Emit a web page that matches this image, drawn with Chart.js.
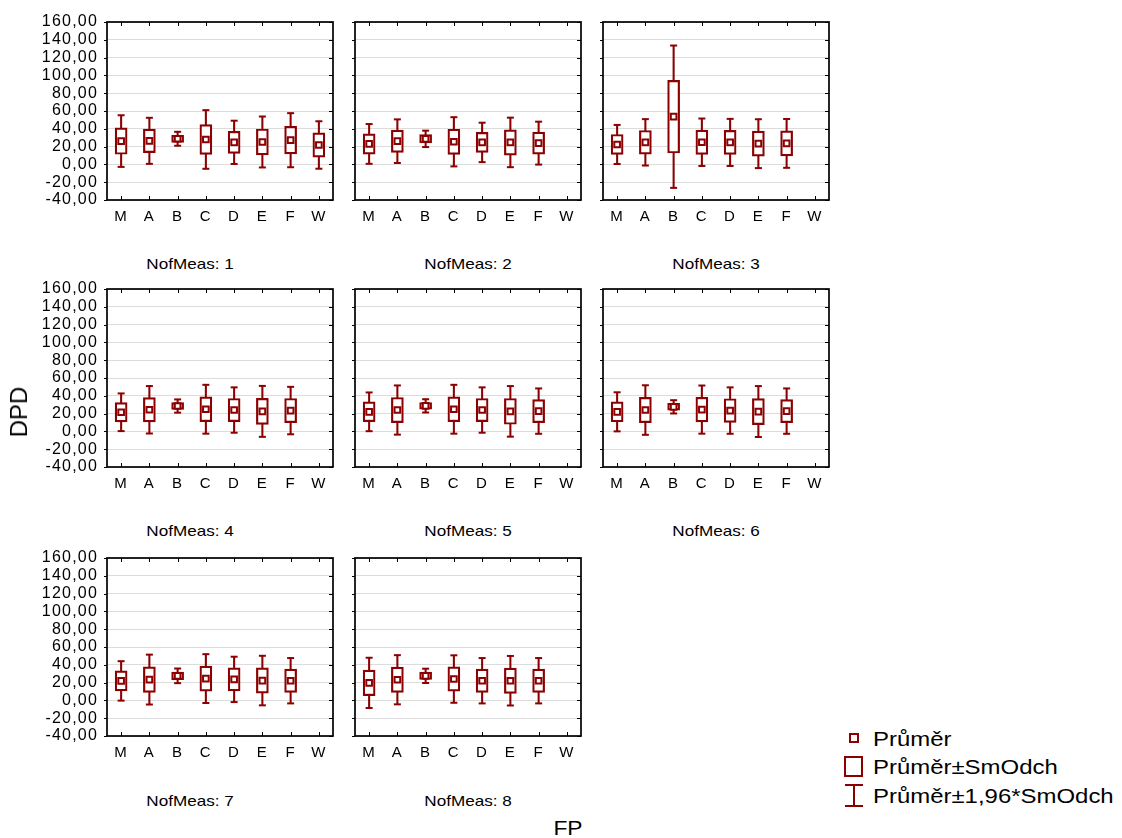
<!DOCTYPE html>
<html>
<head>
<meta charset="utf-8">
<script src="https://cdn.jsdelivr.net/npm/chart.js@4.4.1/dist/chart.umd.min.js"></script>
<style>
  html, body { margin: 0; padding: 0; background: #fff; }
  body { width: 1122px; height: 838px; position: relative; overflow: hidden;
         font-family: "Liberation Sans", Arial, sans-serif; color: #000; }
  canvas { position: absolute; }
  .lbl { position: absolute; white-space: nowrap; line-height: 1; }
  .title { font-size: 15px; transform: translate(-50%, -50%) scaleX(1.14); }
  .leg { font-size: 21px; left: 873px; transform: scaleX(1.14); transform-origin: left center; }
  .sym { position: absolute; box-sizing: border-box; }
</style>
</head>
<body>
<script>
// categories and per-panel values (Průměr = mean, SmOdch = standard deviation)
const categories = ["M", "A", "B", "C", "D", "E", "F", "W"];
const panelNames = ["NofMeas: 1", "NofMeas: 2", "NofMeas: 3", "NofMeas: 4",
                    "NofMeas: 5", "NofMeas: 6", "NofMeas: 7", "NofMeas: 8"];
const yTicks = { min: -40, max: 160, step: 20 };

const mean1 = [26.2, 26.5, 28.8, 28.0, 24.8, 25.2, 27.2, 21.8];
const sd1   = [14.8, 13.2, 4.0, 16.8, 12.4, 14.6, 15.5, 13.6];
const mean2 = [23.0, 26.1, 28.7, 25.4, 24.7, 24.7, 23.9, null];
const sd2   = [11.4, 12.5, 4.7, 14.1, 11.3, 14.2, 12.3, null];
const mean3 = [22.4, 24.8, 53.6, 24.9, 24.7, 23.3, 23.6, null];
const sd3   = [11.2, 13.3, 40.8, 13.6, 13.5, 14.0, 14.0, null];
const mean4 = [21.5, 24.3, 28.5, 24.9, 24.0, 22.5, 23.4, null];
const sd4   = [10.8, 13.6, 3.8, 14.0, 13.0, 14.6, 13.6, null];
const mean5 = [22.0, 24.0, 28.7, 24.9, 24.0, 22.5, 22.8, null];
const sd5   = [11.1, 14.1, 3.8, 14.0, 13.0, 14.5, 13.0, null];
const mean6 = [22.0, 24.0, 27.6, 24.5, 23.4, 22.3, 22.8, null];
const sd6   = [11.2, 14.2, 3.8, 13.8, 13.3, 14.6, 13.0, null];
const mean7 = [21.9, 23.4, 27.6, 24.5, 23.6, 22.3, 22.1, null];
const sd7   = [11.3, 14.3, 4.2, 14.0, 13.0, 14.2, 13.0, null];
const mean8 = [19.7, 23.2, 27.6, 24.0, 22.1, 22.1, 22.1, null];
const sd8   = [14.4, 14.1, 4.1, 13.6, 13.0, 14.2, 13.0, null];

const means = [mean1, mean2, mean3, mean4, mean5, mean6, mean7, mean8];
const sds = [sd1, sd2, sd3, sd4, sd5, sd6, sd7, sd8];

const RED = "#8b0000";
const FONT = "'Liberation Sans', Arial, sans-serif";
const colLeft = [107, 355, 603];
const rowTop = [22, 289, 558];
const plotW = 226, plotH = 178;
const titleX = [190, 468, 716];
const titleY = [263, 530, 800];

// black frame + little ticks on the frame, like the statistica output
const framePlugin = {
  id: "frame",
  beforeDraw(chart) { chart.ctx.letterSpacing = "1.2px"; },
  afterDraw(chart) {
    const { ctx, chartArea: a, scales } = chart;
    ctx.save();
    ctx.letterSpacing = "0px";
    ctx.strokeStyle = "#000";
    ctx.lineWidth = 1;
    ctx.beginPath();
    scales.x.ticks.forEach((t, i) => {
      const x = Math.round(scales.x.getPixelForTick(i)) + 0.5;
      ctx.moveTo(x, a.top); ctx.lineTo(x, a.top + 4);
      ctx.moveTo(x, a.bottom); ctx.lineTo(x, a.bottom - 4);
    });
    scales.y.ticks.forEach((t, i) => {
      const y = Math.round(scales.y.getPixelForTick(i)) + 0.5;
      ctx.moveTo(a.right, y); ctx.lineTo(a.right - 4, y);
      ctx.moveTo(a.left, y); ctx.lineTo(a.left - 3, y);
    });
    ctx.stroke();
    ctx.lineWidth = 1.7;
    ctx.strokeRect(a.left, a.top, a.width, a.height);
    ctx.restore();
  }
};

function addLabel(text, cls, x, y) {
  const d = document.createElement("div");
  d.className = "lbl " + cls;
  d.textContent = text;
  d.style.left = x + "px";
  d.style.top = y + "px";
  document.body.appendChild(d);
  return d;
}

means.forEach((mean, p) => {
  const sd = sds[p];
  const col = p % 3, row = Math.floor(p / 3);
  const yW = col === 0 ? 107 : 12;
  const padTop = 20, padRight = 10, xH = 32;

  const cv = document.createElement("canvas");
  cv.width = yW + plotW + padRight;
  cv.height = padTop + plotH + xH;
  cv.style.left = (colLeft[col] - yW) + "px";
  cv.style.top = (rowTop[row] - padTop) + "px";
  document.body.appendChild(cv);

  const whisker = mean.map((m, i) => m == null ? null : [m - 1.96 * sd[i], m + 1.96 * sd[i]]);
  const box = mean.map((m, i) => m == null ? null : [m - sd[i], m + sd[i]]);
  const capHi = mean.map((m, i) => m == null ? null : m + 1.96 * sd[i]);
  const capLo = mean.map((m, i) => m == null ? null : m - 1.96 * sd[i]);

  new Chart(cv.getContext("2d"), {
    type: "bar",
    data: {
      labels: categories,
      datasets: [
        { label: "whisker", data: whisker, backgroundColor: RED, borderWidth: 0,
          barThickness: 1.4, grouped: false, order: 4 },
        { label: "box", data: box, backgroundColor: "#fff", borderColor: RED,
          borderWidth: 2.2, borderSkipped: false, barThickness: 12, grouped: false, order: 3 },
        { type: "line", label: "capHi", data: capHi, showLine: false, pointStyle: "line",
          pointRadius: 3.5, pointBorderWidth: 2, pointBorderColor: RED, order: 2 },
        { type: "line", label: "capLo", data: capLo, showLine: false, pointStyle: "line",
          pointRadius: 3.5, pointBorderWidth: 2, pointBorderColor: RED, order: 2 },
        { type: "line", label: "mean", data: mean, showLine: false, pointStyle: "rect",
          pointRadius: 4, pointBorderWidth: 2, pointBorderColor: RED,
          pointBackgroundColor: "#fff", order: 1 }
      ]
    },
    options: {
      responsive: false,
      animation: false,
      events: [],
      layout: { padding: { top: padTop, right: padRight, left: 0, bottom: 0 } },
      plugins: { legend: { display: false }, tooltip: { enabled: false } },
      scales: {
        x: {
          offset: true,
          grid: { display: false },
          border: { display: false },
          ticks: { color: "#000", font: { family: FONT, size: 15 }, padding: 0,
                   maxRotation: 0, autoSkip: false },
          afterFit: s => { s.height = xH; }
        },
        y: {
          min: yTicks.min, max: yTicks.max,
          grid: { color: "#dcdcdc", lineWidth: 1, drawTicks: false },
          border: { display: false },
          ticks: { display: col === 0, stepSize: yTicks.step, autoSkip: false, color: "#000",
                   font: { family: FONT, size: 16 }, padding: 9,
                   callback: v => v.toFixed(2).replace(".", ",") },
          afterFit: s => { s.width = yW; }
        }
      }
    },
    plugins: [framePlugin]
  });

  addLabel(panelNames[p], "title", titleX[col], titleY[row]);
});

// axis titles
const dpd = addLabel("DPD", "", 19, 412);
dpd.style.fontSize = "24px";
dpd.style.transform = "translate(-50%, -50%) rotate(-90deg)";
const fp = addLabel("FP", "", 568, 828);
fp.style.fontSize = "20px";
fp.style.transform = "translate(-50%, -50%) scaleX(1.14)";

// legend
const legendLabels = ["Průměr", "Průměr±SmOdch", "Průměr±1,96*SmOdch"];
const legendTops = [728, 756, 785];
legendLabels.forEach((t, i) => addLabel(t, "leg", 873, legendTops[i]));

function sym(x, y, w, h, css) {
  const d = document.createElement("div");
  d.className = "sym";
  Object.assign(d.style, { left: x + "px", top: y + "px", width: w + "px", height: h + "px" }, css);
  document.body.appendChild(d);
}
sym(849, 733, 10, 10, { border: "2px solid " + RED });
sym(844, 756, 19, 21, { border: "2.5px solid " + RED });
sym(845, 784, 18, 2, { background: RED });
sym(845, 805, 18, 2, { background: RED });
sym(853.3, 785, 1.4, 21, { background: RED });
</script>
</body>
</html>
